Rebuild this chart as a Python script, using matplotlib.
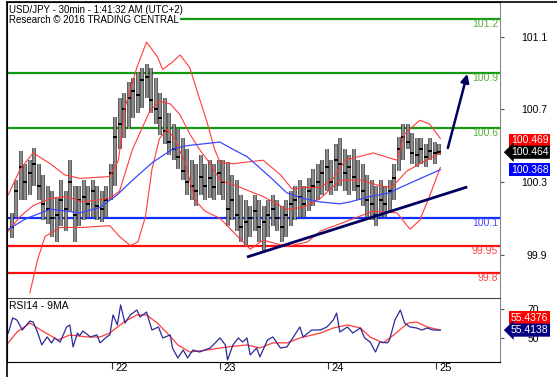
import numpy as np
import matplotlib
matplotlib.use("Agg")
import matplotlib.pyplot as plt
import matplotlib.transforms as mtransforms
from matplotlib.lines import Line2D

plt.rcParams['font.family'] = ['Liberation Sans', 'DejaVu Sans']

# ---- price bars (hourly samples, x in days of the month) ----
high = [100.13, 100.31, 100.47, 100.40, 100.42, 100.49, 100.40, 100.34, 100.28, 100.25,
        100.22, 100.31, 100.25, 100.42, 100.28, 100.28, 100.31, 100.28, 100.31, 100.28,
        100.25, 100.28, 100.40, 100.66, 100.76, 100.79, 100.85, 100.87, 100.90, 100.93,
        100.95, 100.93, 100.87, 100.79, 100.76, 100.68, 100.62, 100.59, 100.54, 100.48,
        100.42, 100.40, 100.45, 100.40, 100.42, 100.40, 100.42, 100.42, 100.41, 100.34,
        100.31, 100.23, 100.20, 100.17, 100.23, 100.20, 100.17, 100.20, 100.23, 100.20,
        100.17, 100.20, 100.25, 100.28, 100.31, 100.28, 100.32, 100.37, 100.40, 100.42,
        100.48, 100.42, 100.51, 100.54, 100.48, 100.45, 100.48, 100.42, 100.40, 100.34,
        100.31, 100.28, 100.31, 100.28, 100.31, 100.40, 100.55, 100.62, 100.62, 100.57,
        100.54, 100.54, 100.51, 100.54, 100.52, 100.51]
low = [99.99, 100.11, 100.20, 100.20, 100.23, 100.28, 100.20, 100.09, 100.07, 100.00,
       99.97, 100.06, 100.03, 100.14, 99.97, 100.06, 100.09, 100.11, 100.11, 100.09,
       100.08, 100.11, 100.20, 100.28, 100.48, 100.54, 100.59, 100.65, 100.68, 100.71,
       100.76, 100.68, 100.62, 100.56, 100.51, 100.45, 100.42, 100.37, 100.31, 100.23,
       100.20, 100.17, 100.23, 100.20, 100.21, 100.20, 100.23, 100.20, 100.06, 100.09,
       100.03, 99.97, 99.95, 100.00, 100.03, 99.97, 99.92, 100.00, 100.06, 100.03,
       99.97, 100.00, 100.06, 100.09, 100.11, 100.11, 100.14, 100.17, 100.20, 100.23,
       100.25, 100.23, 100.25, 100.28, 100.25, 100.23, 100.25, 100.20, 100.17, 100.11,
       100.09, 100.06, 100.11, 100.11, 100.14, 100.20, 100.36, 100.42, 100.48, 100.40,
       100.38, 100.40, 100.38, 100.42, 100.40, 100.45]
close = [100.05, 100.25, 100.38, 100.30, 100.35, 100.40, 100.28, 100.18, 100.15, 100.10,
         100.12, 100.20, 100.15, 100.30, 100.12, 100.20, 100.22, 100.18, 100.25, 100.17,
         100.15, 100.20, 100.35, 100.55, 100.62, 100.70, 100.76, 100.80, 100.78, 100.86,
         100.88, 100.75, 100.70, 100.65, 100.58, 100.52, 100.48, 100.44, 100.36, 100.30,
         100.28, 100.25, 100.33, 100.28, 100.32, 100.27, 100.35, 100.30, 100.15, 100.20,
         100.12, 100.05, 100.08, 100.10, 100.14, 100.05, 100.08, 100.12, 100.15, 100.10,
         100.05, 100.12, 100.18, 100.20, 100.22, 100.18, 100.25, 100.28, 100.30, 100.35,
         100.38, 100.30, 100.42, 100.40, 100.35, 100.38, 100.33, 100.28, 100.25, 100.20,
         100.18, 100.12, 100.20, 100.18, 100.25, 100.32, 100.48, 100.55, 100.52, 100.46,
         100.45, 100.48, 100.44, 100.47, 100.46, 100.464]
first_bar = 21.074

# ---- bollinger bands and moving average ----
bb_up_x = [21.04, 21.15, 21.27, 21.43, 21.56, 21.70, 21.98, 22.06, 22.12, 22.23, 22.32, 22.42,
           22.47, 22.56, 22.63, 22.72, 22.81, 22.88, 22.95, 23.00, 23.12, 23.25, 23.40, 23.56,
           23.67, 23.77, 23.93, 24.05, 24.16, 24.42, 24.64, 24.71, 24.85, 24.94, 25.04]
bb_up = [100.23, 100.37, 100.46, 100.40, 100.34, 100.32, 100.33, 100.42, 100.71, 100.93, 101.07, 100.99,
         100.92, 100.96, 101.00, 100.93, 100.76, 100.63, 100.48, 100.41, 100.40, 100.41, 100.42, 100.34,
         100.26, 100.27, 100.27, 100.32, 100.42, 100.46, 100.42, 100.565, 100.64, 100.62, 100.54]
bb_mid_x = [21.04, 21.15, 21.27, 21.43, 21.58, 21.73, 21.98, 22.07, 22.19, 22.35, 22.44, 22.54,
            22.63, 22.72, 22.81, 22.91, 23.00, 23.19, 23.40, 23.62, 23.77, 23.93, 24.11, 24.30,
            24.48, 24.59, 24.73, 24.88, 25.04]
bb_mid = [100.03, 100.11, 100.17, 100.21, 100.22, 100.19, 100.21, 100.25, 100.48, 100.69, 100.745, 100.73,
          100.67, 100.565, 100.48, 100.40, 100.31, 100.27, 100.22, 100.15, 100.16, 100.21, 100.31, 100.31,
          100.28, 100.27, 100.36, 100.41, 100.46]
bb_low_x = [21.24, 21.31, 21.38, 21.52, 21.73, 21.98, 22.07, 22.17, 22.24, 22.31, 22.37, 22.44,
            22.51, 22.58, 22.68, 22.77, 22.86, 23.00, 23.28, 23.40, 23.62, 23.81, 23.93, 24.11,
            24.42, 24.64, 24.76, 24.85, 24.94, 25.04]
bb_low = [99.69, 99.87, 100.00, 100.05, 100.05, 100.06, 100.00, 99.95, 99.97, 100.11, 100.37, 100.54,
          100.59, 100.54, 100.40, 100.20, 100.14, 100.10, 99.93, 99.98, 99.945, 99.97, 100.03, 100.07,
          100.14, 100.13, 100.04, 100.09, 100.22, 100.38]
ma_x = [21.04, 21.21, 21.43, 21.58, 21.70, 21.89, 22.05, 22.19, 22.38, 22.56, 22.69, 23.00, 23.12,
        23.25, 23.46, 23.62, 23.77, 23.93, 24.11, 24.20, 24.39, 24.57, 24.67, 24.82, 25.04]
ma = [100.04, 100.10, 100.15, 100.14, 100.13, 100.16, 100.23, 100.31, 100.41, 100.48, 100.50, 100.52, 100.48,
      100.44, 100.33, 100.24, 100.21, 100.19, 100.18, 100.19, 100.22, 100.24, 100.27, 100.31, 100.368]

# ---- key levels ----
res_levels = [101.2, 100.9, 100.6]
pivot_level = [100.1]
sup_levels = [99.95, 99.8]
trend_x = [23.25, 25.29]
trend_y = [99.887, 100.273]
arrow_x = [25.11, 25.29]
arrow_y = [100.487, 100.895]
last_vals = {'upper': 100.469, 'price': 100.464, 'ma': 100.368}

# ---- RSI ----
rsi_x = [21.04, 21.08, 21.12, 21.17, 21.24, 21.27, 21.31, 21.35, 21.40, 21.44, 21.47, 21.52, 21.58, 21.61,
         21.64, 21.68, 21.70, 21.73, 21.80, 21.86, 21.89, 21.95, 21.98, 22.01, 22.05, 22.08, 22.12, 22.17,
         22.23, 22.26, 22.32, 22.37, 22.43, 22.47, 22.54, 22.56, 22.61, 22.66, 22.70, 22.75, 22.81, 22.91,
         23.00, 23.05, 23.07, 23.12, 23.17, 23.21, 23.25, 23.28, 23.34, 23.37, 23.44, 23.49, 23.56, 23.62,
         23.68, 23.74, 23.77, 23.85, 23.93, 23.99, 24.05, 24.08, 24.11, 24.18, 24.23, 24.30, 24.34, 24.39,
         24.44, 24.48, 24.55, 24.57, 24.62, 24.67, 24.71, 24.76, 24.82, 24.87, 24.92, 24.97, 25.04]
rsi = [53.4, 63.8, 62.4, 55.5, 61.7, 61.0, 54.1, 45.2, 50.7, 46.6, 50.0, 47.2, 57.6, 59.0,
       43.8, 53.4, 51.5, 54.8, 50.7, 52.1, 46.6, 50.7, 52.1, 65.9, 59.0, 72.8, 60.3, 65.9,
       69.3, 64.5, 67.9, 55.5, 57.6, 50.0, 52.1, 43.1, 36.2, 41.7, 36.2, 41.7, 40.3, 43.1,
       50.0, 45.2, 34.8, 45.2, 50.0, 47.2, 50.0, 38.3, 43.1, 36.9, 48.6, 50.7, 43.1, 43.8,
       50.7, 57.6, 50.7, 55.5, 55.5, 57.6, 62.4, 67.2, 54.1, 57.6, 53.4, 56.9, 50.0, 47.2,
       40.3, 47.2, 46.6, 48.6, 62.4, 69.3, 60.3, 57.6, 56.9, 55.5, 56.9, 55.5, 55.41]
rsi_ma_x = [21.04, 21.12, 21.24, 21.34, 21.50, 21.61, 21.77, 21.89, 21.98, 22.11, 22.23, 22.32, 22.42,
            22.51, 22.61, 22.72, 22.88, 23.07, 23.25, 23.37, 23.49, 23.62, 23.74, 23.93, 24.05, 24.18,
            24.30, 24.39, 24.51, 24.61, 24.74, 24.82, 24.92, 25.04]
rsi_ma = [46.6, 54.1, 60.3, 55.5, 48.6, 52.1, 50.7, 50.7, 53.4, 61.0, 65.9, 65.9, 60.3,
          53.4, 45.2, 40.3, 41.7, 43.8, 45.2, 43.1, 46.6, 46.6, 50.0, 53.4, 56.9, 59.0,
          56.9, 50.7, 46.6, 52.1, 60.3, 61.0, 57.6, 55.44]
rsi_last = [55.4376, 55.4138]

W, H = 557, 377
fig = plt.figure(figsize=(W / 100, H / 100), dpi=100)
ax = fig.add_axes([7 / W, 1 - 297 / H, 493 / W, 295 / H])
ax2 = fig.add_axes([7 / W, 1 - 362 / H, 493 / W, 64 / H])

xlim = (21.028, 25.593)
ax.set_xlim(*xlim)
ax.set_ylim(99.667, 101.291)
ax2.set_xlim(*xlim)
ax2.set_ylim(33.4, 77.6)

# key horizontal levels
for lv in res_levels:
    ax.axhline(lv, color='#129a12', lw=1.6, zorder=1)
    ax.text(0.996, lv, str(lv), transform=ax.get_yaxis_transform(), ha='right', va='top',
            fontsize=7.5, color='#5aac3a')
for lv in pivot_level:
    ax.axhline(lv, color='#1030ff', lw=1.6, zorder=1)
    ax.text(0.996, lv, str(lv), transform=ax.get_yaxis_transform(), ha='right', va='top',
            fontsize=7.5, color='#4848ff')
for lv in sup_levels:
    ax.axhline(lv, color='#ff1010', lw=1.6, zorder=1)
    ax.text(0.996, lv, str(lv), transform=ax.get_yaxis_transform(), ha='right', va='top',
            fontsize=7.5, color='#ff4040')

# bands + ma
ax.plot(bb_up_x, bb_up, color='#ff3b3b', lw=0.8, zorder=3)
ax.plot(bb_mid_x, bb_mid, color='#ff3b3b', lw=0.8, zorder=3)
ax.plot(bb_low_x, bb_low, color='#ff3b3b', lw=0.8, zorder=3)
ax.plot(ma_x, ma, color='#3a46ff', lw=0.9, zorder=3)

# bars
t = first_bar + np.arange(len(close)) / 24
ax.vlines(t, low, high, color='#3a3a3a', lw=2.6, zorder=2)
ax.vlines(t, low, high, color='#909090', lw=1.4, zorder=2)
ax.plot(t, close, ls='none', marker='_', ms=3.5, mew=1.4, color='black', zorder=2)

# trend line and arrow
ax.plot(trend_x, trend_y, color='#000060', lw=2, solid_capstyle='butt', zorder=4)
ax.annotate('', xy=(arrow_x[1], arrow_y[1]), xytext=(arrow_x[0], arrow_y[0]),
            arrowprops=dict(arrowstyle='-|>', color='#000060', lw=1.8, mutation_scale=12,
                            shrinkA=0, shrinkB=0), zorder=4)

# right axis of price panel
ax.yaxis.tick_right()
ax.set_yticks([99.9, 100.3, 100.7, 101.1])
ax.set_yticklabels(['99.9', '100.3', '100.7', '101.1'])
ax.tick_params(axis='y', direction='out', length=3, color='#555555', labelsize=7.5, pad=31)
for lb in ax.get_yticklabels():
    lb.set_horizontalalignment('right')
ax.set_xticks([])
for s in ['left', 'top']:
    ax.spines[s].set_color('black')
ax.spines['right'].set_color('#888888')
ax.spines['bottom'].set_visible(False)

blend = mtransforms.blended_transform_factory(ax.transAxes, ax.transData)
ax.annotate('%.3f' % last_vals['upper'], xy=(1.022, last_vals['upper']), xycoords=blend,
            xytext=(0, 8), textcoords='offset points', ha='left', va='center', fontsize=7.5,
            color='white', bbox=dict(boxstyle='square,pad=0.15', fc='#ff0000', ec='none'),
            annotation_clip=False, zorder=6)
ax.annotate('%.3f' % last_vals['price'], xy=(1.022, last_vals['price']), xycoords=blend,
            ha='left', va='center', fontsize=7.5, color='white',
            bbox=dict(boxstyle='larrow,pad=0.15', fc='black', ec='none'),
            annotation_clip=False, zorder=6)
ax.annotate('%.3f' % last_vals['ma'], xy=(1.022, last_vals['ma']), xycoords=blend,
            ha='left', va='center', fontsize=7.5, color='white',
            bbox=dict(boxstyle='square,pad=0.15', fc='#0000ff', ec='none'),
            annotation_clip=False, zorder=6)

# RSI panel
ax2.plot(rsi_ma_x, rsi_ma, color='#ff3b3b', lw=0.9)
ax2.plot(rsi_x, rsi, color='#2a2a9a', lw=0.9)
ax2.text(0.004, 0.88, 'RSI14 - 9MA', transform=ax2.transAxes, fontsize=7.5, va='center', ha='left')
ax2.yaxis.tick_right()
ax2.set_yticks([50, 70])
ax2.set_yticklabels(['50', '70'])
ax2.tick_params(axis='y', direction='out', length=3, color='#555555', labelsize=7.5, pad=25)
for lb in ax2.get_yticklabels():
    lb.set_horizontalalignment('right')
ax2.set_xticks([22, 23, 24, 25])
ax2.set_xticklabels(['22', '23', '24', '25'])
ax2.tick_params(axis='x', direction='out', length=5, color='#333333', labelsize=8, pad=-4)
shift = mtransforms.ScaledTranslation(3 / 100, 0, fig.dpi_scale_trans)
for lb in ax2.get_xticklabels():
    lb.set_horizontalalignment('left')
    lb.set_transform(lb.get_transform() + shift)
ax2.spines['right'].set_color('#888888')
ax2.spines['top'].set_color('#444444')

blend2 = mtransforms.blended_transform_factory(ax2.transAxes, ax2.transData)
ax2.annotate('%.4f' % rsi_last[0], xy=(1.022, rsi_last[0]), xycoords=blend2,
             xytext=(0, 9), textcoords='offset points', ha='left', va='center', fontsize=7.5,
             color='white', bbox=dict(boxstyle='square,pad=0.15', fc='#ff0000', ec='none'),
             annotation_clip=False, zorder=6)
ax2.annotate('%.4f' % rsi_last[1], xy=(1.022, rsi_last[1]), xycoords=blend2,
             ha='left', va='center', fontsize=7.5, color='white',
             bbox=dict(boxstyle='larrow,pad=0.15', fc='#000080', ec='none'),
             annotation_clip=False, zorder=6)

# outer frame and header
fig.add_artist(Line2D([7 / W, 7 / W], [0, 1 - 2 / H], color='black', lw=1.2))
fig.add_artist(Line2D([7 / W, 1], [1 - 2 / H, 1 - 2 / H], color='black', lw=1.2))
fig.text(9 / W, 1 - 10 / H, 'USD/JPY - 30min - 1:41:32 AM (UTC+2)', fontsize=7, va='center',
         bbox=dict(boxstyle='square,pad=0.1', fc='white', ec='none'))
fig.text(9 / W, 1 - 20 / H, 'Research \u00a9 2016 TRADING CENTRAL', fontsize=7, va='center',
         bbox=dict(boxstyle='square,pad=0.1', fc='white', ec='none'))

fig.savefig('out.png', dpi=100)
